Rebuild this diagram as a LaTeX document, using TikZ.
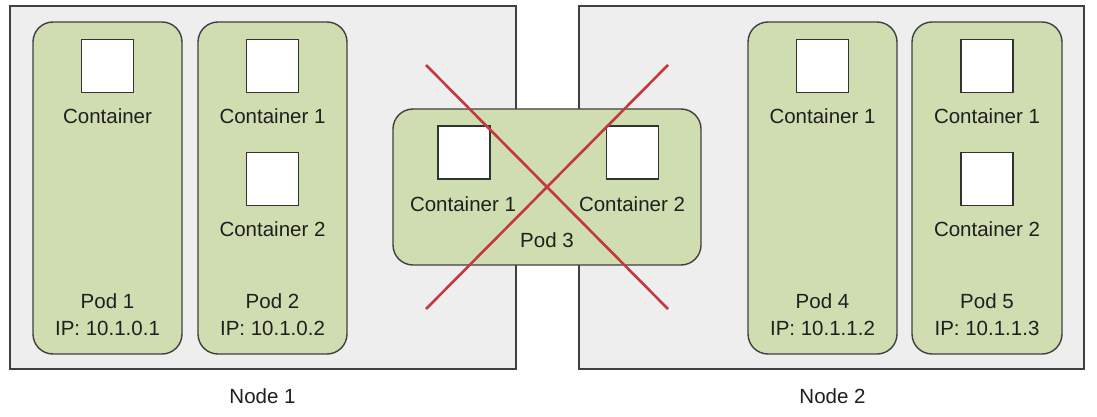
\documentclass[tikz,border=0pt]{standalone}
\usepackage{fontspec}
\setmainfont{Liberation Sans}
\begin{document}
\begin{tikzpicture}[x=1pt,y=-1pt,
  hostbox/.style={draw=black!75,line width=1.6pt,fill=gray!13,minimum width=#1,minimum height=363pt,inner sep=0pt},
  podbox/.style={draw=black!75,line width=1.4pt,fill=podgreen,rounded corners=20pt,inner sep=0pt},
  ctrbox/.style={draw=black!80,line width=1.3pt,fill=white,minimum width=52pt,minimum height=53pt,inner sep=0pt},
  lbl/.style={anchor=base,inner sep=0pt,font=\fontsize{20.5pt}{24pt}\selectfont,text=black!88},
  crossline/.style={draw=crossred,line width=2.6pt}]
\definecolor{podgreen}{HTML}{CFDDB1}
\definecolor{crossred}{HTML}{C2393E}
\useasboundingbox[fill=white] (0,0) rectangle (1097,417);
% hosts
\node[hostbox=506pt] (node1) at (263,187.5) {};
\node[hostbox=505pt] (node2) at (831.5,187.5) {};
% pods
\node[podbox,minimum width=149pt,minimum height=332pt] (pod1) at (107.5,188) {};
\node[podbox,minimum width=149pt,minimum height=332pt] (pod2) at (272.5,188) {};
\node[podbox,minimum width=149pt,minimum height=332pt] (pod4) at (822.5,188) {};
\node[podbox,minimum width=150pt,minimum height=332pt] (pod5) at (987,188) {};
\node[podbox,minimum width=308pt,minimum height=156pt] (pod3) at (547,187) {};
% containers
\node[ctrbox] (c11) at (107.5,66) {};
\node[ctrbox] (c21) at (272.5,66) {};
\node[ctrbox] (c22) at (272.5,179) {};
\node[ctrbox] (c41) at (822.5,66) {};
\node[ctrbox] (c51) at (987,66) {};
\node[ctrbox] (c52) at (987,179) {};
\node[ctrbox] (c31) at (464,152.5) {};
\node[ctrbox] (c32) at (632.5,152.5) {};
% labels
\node[lbl] (t11) at (107.5,124) {Container};
\node[lbl] (t21) at (272.5,124) {Container 1};
\node[lbl] (t22) at (272.5,236) {Container 2};
\node[lbl] (t41) at (822.5,124) {Container 1};
\node[lbl] (t51) at (987,124) {Container 1};
\node[lbl] (t52) at (987,236) {Container 2};
\node[lbl] (t31) at (463,211) {Container 1};
\node[lbl] (t32) at (632,211) {Container 2};
\node[lbl] (p3) at (547,247) {Pod 3};
\node[lbl] (p1) at (107.5,308.5) {Pod 1};
\node[lbl] (ip1) at (107.5,335) {IP: 10.1.0.1};
\node[lbl] (p2) at (272.5,308.5) {Pod 2};
\node[lbl] (ip2) at (272.5,335) {IP: 10.1.0.2};
\node[lbl] (p4) at (822.5,308.5) {Pod 4};
\node[lbl] (ip4) at (822.5,335) {IP: 10.1.1.2};
\node[lbl] (p5) at (987,308.5) {Pod 5};
\node[lbl] (ip5) at (987,335) {IP: 10.1.1.3};
\node[lbl] (n1) at (262.5,403.5) {Node 1};
\node[lbl] (n2) at (832.5,403.5) {Node 2};
% cross
\coordinate (xa) at (426,65);
\coordinate (xb) at (668,309);
\coordinate (xc) at (668,65);
\coordinate (xd) at (426,309);
\draw[crossline] (xa) -- (xb);
\draw[crossline] (xc) -- (xd);
\end{tikzpicture}
\end{document}
